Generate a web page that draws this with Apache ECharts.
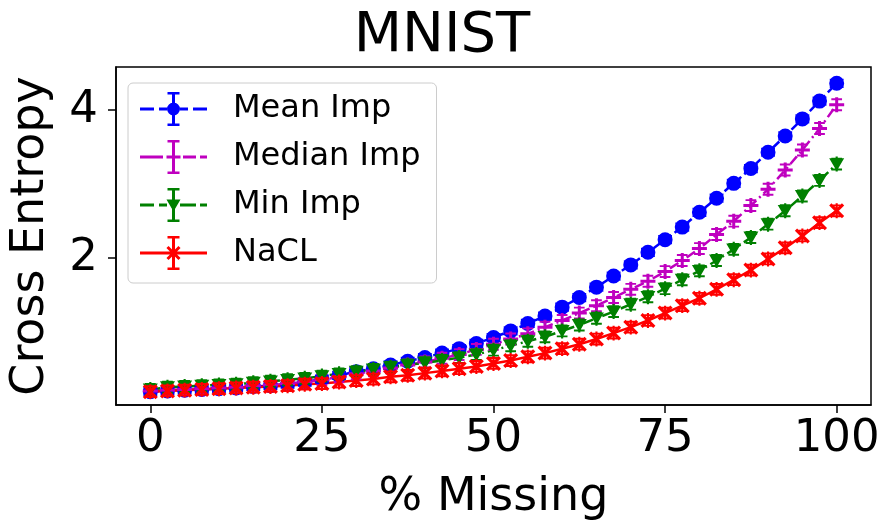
<!DOCTYPE html>
<html><head><meta charset="utf-8">
<script src="https://cdn.jsdelivr.net/npm/echarts@6/dist/echarts.min.js"></script>
<style>html,body{margin:0;padding:0;background:#fff}#c{width:884px;height:526px}</style>
</head><body><div id="c"></div>
<script>
// ---- data ----
const pctMissing = [0,2.5,5,7.5,10,12.5,15,17.5,20,22.5,25,27.5,30,32.5,35,37.5,40,42.5,45,47.5,50,52.5,55,57.5,60,62.5,65,67.5,70,72.5,75,77.5,80,82.5,85,87.5,90,92.5,95,97.5,100];
const meanImp = [0.20,0.21,0.22,0.23,0.24,0.25,0.27,0.28,0.30,0.33,0.37,0.42,0.47,0.51,0.56,0.61,0.66,0.72,0.78,0.85,0.93,1.02,1.12,1.22,1.34,1.47,1.61,1.76,1.91,2.08,2.25,2.42,2.62,2.81,3.01,3.21,3.43,3.65,3.88,4.12,4.36];
const medianImp = [0.21,0.22,0.23,0.24,0.25,0.26,0.28,0.29,0.31,0.33,0.36,0.40,0.44,0.48,0.52,0.56,0.60,0.65,0.70,0.77,0.84,0.91,0.98,1.07,1.16,1.26,1.36,1.47,1.58,1.69,1.82,1.97,2.13,2.32,2.50,2.71,2.93,3.19,3.46,3.75,4.07];
const minImp = [0.23,0.26,0.27,0.28,0.29,0.30,0.32,0.34,0.36,0.38,0.41,0.44,0.47,0.50,0.53,0.56,0.59,0.62,0.66,0.70,0.76,0.82,0.88,0.94,1.02,1.10,1.19,1.28,1.38,1.48,1.59,1.71,1.83,1.97,2.12,2.28,2.46,2.64,2.84,3.05,3.27];
const nacl = [0.20,0.21,0.22,0.23,0.24,0.25,0.26,0.27,0.28,0.30,0.31,0.33,0.35,0.37,0.40,0.42,0.45,0.48,0.51,0.54,0.58,0.62,0.67,0.72,0.78,0.84,0.91,0.99,1.07,1.16,1.26,1.36,1.46,1.58,1.71,1.84,1.99,2.14,2.30,2.48,2.64];
const seriesNames = ['Mean Imp','Median Imp','Min Imp','NaCL'];
const xTicks = [0,25,50,75,100];
const yTicks = [2,4];

// ---- path helpers (styling only) ----
function rect(x1,y1,x2,y2){return `M${x1},${y1} L${x2},${y1} L${x2},${y2} L${x1},${y2} Z `;}
function bar(xa,ya,xb,yb,t){
  const dx=xb-xa, dy=yb-ya, L=Math.hypot(dx,dy), nx=-dy/L*t/2, ny=dx/L*t/2;
  const p=[[xa-nx,ya-ny],[xb-nx,yb-ny],[xb+nx,yb+ny],[xa+nx,ya+ny]];
  const cr=(p[1][0]-p[0][0])*(p[2][1]-p[1][1])-(p[1][1]-p[0][1])*(p[2][0]-p[1][0]);
  if(cr<0)p.reverse();
  return 'M'+p.map(q=>q[0].toFixed(2)+','+q[1].toFixed(2)).join(' L')+' Z ';
}
function circ(cx,cy,r){return `M${cx-r},${cy} A${r},${r} 0 1,1 ${cx+r},${cy} A${r},${r} 0 1,1 ${cx-r},${cy} Z `;}
function markerShape(kind,cx,cy){
  if(kind==='o')return circ(cx,cy,6.5);
  if(kind==='+')return rect(cx-1.4,cy-7,cx+1.4,cy+7)+rect(cx-7,cy-1.4,cx+7,cy+1.4);
  if(kind==='v')return `M${cx-7},${cy-5.5} L${cx+7},${cy-5.5} L${cx},${cy+6.5} Z `;
  if(kind==='x')return bar(cx-6,cy-6,cx+6,cy+6,3)+bar(cx+6,cy-6,cx-6,cy+6,3);
}
function pointSymbol(kind){
  let s=markerShape(kind,7,7);
  if(kind==='o'){ s+=rect(1,3,13,4.6)+rect(1,9.4,13,11); }
  else { s+=rect(6,0,8,14)+rect(2,1,12,2.8)+rect(2,11.2,12,13); }
  return 'path://'+s;
}
function legendSymbol(kind,segs){
  let s='';
  segs.forEach(g=>{s+=rect(g[0],15.5,g[1],18.5);});
  s+=rect(32,0,35,34)+rect(27.5,0,39.5,2.5)+rect(27.5,31.5,39.5,34);
  s+=markerShape(kind,33.5,17);
  return 'path://'+s;
}
const kinds=['o','+','v','x'];
const colors=['#0000ff','#bf00bf','#008000','#ff0000'];
const lineTypes=[[9,4],[10,4,2,4],[10,4,2,4],'solid'];
const legendSegs=[
  [[0,14],[19,27],[40,48],[53,67]],
  [[0,23],[43,56],[60,67]],
  [[0,14],[19,27],[40,56],[60,67]],
  [[0,67]]
];
const symSizes=[[15,15],[15,15],[15,15],[15,15]];
const allData=[meanImp,medianImp,minImp,nacl];

const font='DejaVu Sans';
const chart=echarts.init(document.getElementById('c'),null,{renderer:'canvas'});
chart.setOption({
  animation:false,
  backgroundColor:'#fff',
  title:{text:'MNIST',left:'center',top:3,textStyle:{fontFamily:font,fontSize:56,fontWeight:'normal',color:'#000'}},
  grid:{left:113,right:13,top:67,bottom:114,show:true,borderColor:'#000',borderWidth:1.5,backgroundColor:'transparent'},
  legend:{
    orient:'vertical',left:128,top:83,
    padding:[9,16,13,12],itemGap:14,itemWidth:67,itemHeight:34,
    backgroundColor:'rgba(255,255,255,0.8)',borderColor:'#cccccc',borderWidth:1,borderRadius:5,
    textStyle:{fontFamily:font,fontSize:32,color:'#000',padding:[0,0,0,21]},
    data:seriesNames.map((n,i)=>({name:n,icon:legendSymbol(kinds[i],legendSegs[i]),itemStyle:{color:colors[i]}}))
  },
  xAxis:{
    type:'value',min:-5,max:105,
    name:'% Missing',nameLocation:'middle',nameGap:70,
    nameTextStyle:{fontFamily:font,fontSize:46,color:'#000'},
    axisLine:{show:true,onZero:false,lineStyle:{color:'#000',width:1.5}},
    axisTick:{show:true,length:8,lineStyle:{color:'#000',width:1.5},customValues:xTicks},
    axisLabel:{fontFamily:font,fontSize:45,color:'#000',margin:12,customValues:xTicks},
    splitLine:{show:false}
  },
  yAxis:{
    type:'value',min:0.02,max:4.58,
    name:'Cross Entropy',nameLocation:'middle',nameGap:62,
    nameTextStyle:{fontFamily:font,fontSize:46,color:'#000'},
    axisLine:{show:true,onZero:false,lineStyle:{color:'#000',width:1.5}},
    axisTick:{show:true,length:8,lineStyle:{color:'#000',width:1.5},customValues:yTicks},
    axisLabel:{fontFamily:font,fontSize:45,color:'#000',margin:18,customValues:yTicks},
    splitLine:{show:false}
  },
  series:allData.map((d,i)=>({
    name:seriesNames[i],type:'line',
    data:pctMissing.map((x,j)=>[x,d[j]]),
    symbol:pointSymbol(kinds[i]),symbolSize:symSizes[i],showAllSymbol:true,
    lineStyle:{color:colors[i],width:2.5,type:lineTypes[i]},
    itemStyle:{color:colors[i],borderWidth:0},
    emphasis:{disabled:true}
  }))
});
</script></body></html>
